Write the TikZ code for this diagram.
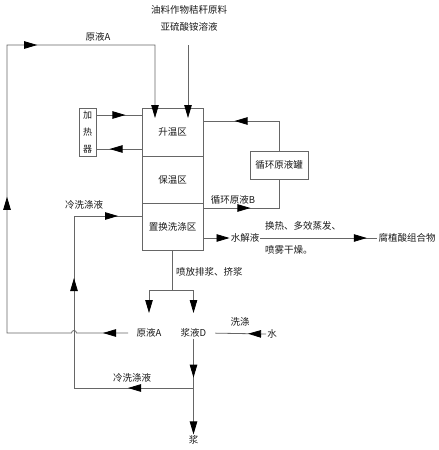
\documentclass[tikz,border=0pt]{standalone}
\usepackage{fontspec}
\setmainfont{Noto Sans CJK SC}
\usetikzlibrary{arrows.meta,decorations.markings}

\definecolor{linegray}{gray}{0.4}
\definecolor{inkgray}{gray}{0.1}

\tikzset{
  flowtip/.tip={Triangle[length=13pt,width=7.5pt,black]},
  pipe/.style={draw=linegray, line width=0.8pt},
  tipat/.style={postaction={decorate,decoration={markings,mark=at position #1 with {\arrow{flowtip}}}}},
  zone/.style={draw=linegray, line width=0.8pt, minimum width=61pt, minimum height=47pt,
    inner sep=0pt, text=inkgray, font=\fontsize{9.5}{11}\selectfont},
  lbl/.style={text=inkgray, font=\fontsize{9.5}{11}\selectfont, inner sep=1pt},
}

\begin{document}
\begin{tikzpicture}[x=1pt,y=-1pt]
  \useasboundingbox (0,0) rectangle (439,450);

  % reactor column
  \node[zone, minimum height=48pt] (heat) at (172.5,132) {升温区};
  \node[zone] (keep) at (172.5,179.5) {保温区};
  \node[zone] (swap) at (172.5,226.5) {置换洗涤区};

  \node[zone, minimum width=17pt, minimum height=48pt, align=center,
    font=\fontsize{9}{17}\selectfont] (heater) at (87.5,132) {加\\热\\器};
  \node[zone, minimum width=58pt, minimum height=28pt] (tank) at (279,165) {循环原液罐};

  % labels
  \node[lbl, align=center, font=\fontsize{9.5}{17}\selectfont] (feed) at (189,18)
    {油料作物秸秆原料\\亚硫酸铵溶液};
  \node[lbl] (topA) at (98,37) {原液A};
  \node[lbl] (coldTop) at (84,205) {冷洗涤液};
  \node[lbl] (recB) at (233,200) {循环原液B};
  \node[lbl] (hyd) at (245,238) {水解液};
  \node[lbl, anchor=west] (proc1) at (264,226) {换热、多效蒸发、};
  \node[lbl, anchor=west] (proc2) at (264,250) {喷雾干燥。};
  \node[lbl] (prod) at (407,238) {腐植酸组合物};
  \node[lbl, anchor=west] (spray) at (175,272) {喷放排浆、挤浆};
  \node[lbl] (liqA) at (149,333) {原液A};
  \node[lbl] (liqD) at (193.5,333) {浆液D};
  \node[lbl] (wash) at (240,322) {洗涤};
  \node[lbl] (water) at (272,334) {水};
  \node[lbl] (coldBot) at (132,378) {冷洗涤液};
  \node[lbl] (slurry) at (193.5,440) {浆};

  % turning points
  \coordinate (aStart) at (128,333);
  \coordinate (aLow) at (7,333);
  \coordinate (aHigh) at (7,45);
  \coordinate (aTurn) at (155,45);
  \coordinate (aIn) at (155,118);
  \coordinate (feedIn) at (188,45);
  \coordinate (feedEnd) at (188,118);
  \coordinate (tankTop) at (279,121);
  \coordinate (tankLow) at (279,208);
  \coordinate (spTop) at (172.5,290);
  \coordinate (spL) at (149,290);
  \coordinate (spR) at (193.5,290);
  \coordinate (aDrop) at (149,313);
  \coordinate (dDrop) at (193.5,313);
  \coordinate (jn) at (193.5,388);
  \coordinate (cLow) at (74,388);
  \coordinate (cHigh) at (74,216);

  % raw liquor A loop
  \draw[pipe, tipat=25pt, tipat=260pt, tipat=442pt, -flowtip] (aStart) -- (76.5,333)
    arc[start angle=0, end angle=180, radius=2.5pt] -- (aLow) -- (aHigh) -- (aTurn) -- (aIn);
  \draw[pipe, -flowtip] (feedIn) -- (feedEnd);

  % heater
  \draw[pipe, tipat=29pt] ([yshift=17pt]heater.east) -- ([yshift=17pt]heat.west);
  \draw[pipe, tipat=32pt] ([yshift=-17pt]heat.west) -- ([yshift=-17pt]heater.east);

  % recycle tank
  \draw[pipe, tipat=74pt] (tank.north) -- (tankTop) -- (heat.east |- tankTop);
  \draw[pipe, tipat=47pt] (swap.east |- tankLow) -- (tankLow) -- (tank.south);

  % hydrolysate
  \draw[pipe, -flowtip] (swap.east |- hyd) -- (hyd.west);
  \draw[pipe, tipat=0.91] (hyd.east) -- (prod.west);

  % discharge
  \draw[pipe] (swap.south) -- (spTop);
  \draw[pipe, -flowtip] (spTop) -- (spL) -- (aDrop);
  \draw[pipe, -flowtip] (spTop) -- (spR) -- (dDrop);
  \draw[pipe, tipat=18pt, shorten >=8pt] (water.west) -- (liqD.east);
  \draw[pipe, tipat=0.79] (liqD.south) -- (jn);
  \draw[pipe, -flowtip] (jn) -- (slurry.north);

  % cold wash return
  \draw[pipe, tipat=65.5pt, tipat=229.5pt, tipat=335.5pt] (jn) -- (cLow) -- (cHigh)
    -- (swap.west |- cHigh);
\end{tikzpicture}
\end{document}
